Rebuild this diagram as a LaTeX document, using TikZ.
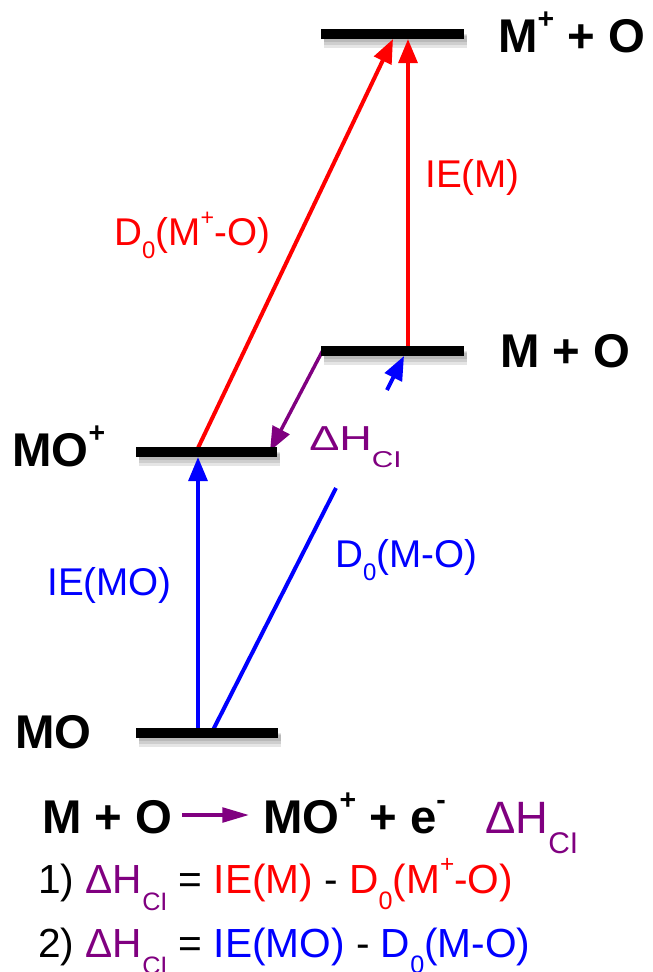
\documentclass[tikz,border=0pt]{standalone}
\usepackage{fontspec}
\setmainfont{Liberation Sans}
\usetikzlibrary{arrows.meta,calc}
\definecolor{cred}{RGB}{255,0,0}
\definecolor{cblue}{RGB}{0,0,255}
\definecolor{cpurple}{RGB}{128,0,128}
\newcommand{\lowsub}[3][0.62]{\raisebox{-#2em}{\scalebox{#1}{#3}}}
\newcommand{\hisup}[1]{\raisebox{0.5em}{\scalebox{0.6}{#1}}}
\tikzset{
  lvl/.style={line width=7pt, black},
  shad/.style={line width=#1, black, opacity=0.10},
  big/.style={font=\fontsize{35.5}{40}\selectfont\bfseries, inner sep=0pt, anchor=base west},
  lab/.style={font=\fontsize{29}{34}\selectfont, inner sep=0pt, anchor=base west},
  eqn/.style={font=\fontsize{30.5}{36}\selectfont, inner sep=0pt, anchor=base west},
  arr/.style={line width=3pt, -{Triangle[length=18pt,width=14pt]}},
}
\begin{document}
\begin{tikzpicture}[x=0.75pt,y=-0.75pt]
\useasboundingbox (0,0) rectangle (653,972);
% level bars coordinates
\coordinate (top-l) at (321,34);  \coordinate (top-r) at (464,34);
\coordinate (mo-l)  at (321,351); \coordinate (mo-r)  at (464,351);
\coordinate (ion-l) at (136,452); \coordinate (ion-r) at (277,452);
\coordinate (bot-l) at (136,733); \coordinate (bot-r) at (278,733);
% shadows
\foreach \a/\b in {top-l/top-r, mo-l/mo-r, ion-l/ion-r, bot-l/bot-r}{
  \draw[shad=11pt] ($(\a)+(3,7)$) -- ($(\b)+(3,7)$);
  \draw[shad=8pt] ($(\a)+(3,6)$) -- ($(\b)+(3,6)$);
  \draw[shad=5pt] ($(\a)+(3,5)$) -- ($(\b)+(3,5)$);
}
% arrow end points
\coordinate (r1s) at (198,448); \coordinate (r1e) at (393,39);
\coordinate (r2s) at (408,348); \coordinate (r2e) at (408,39);
\coordinate (ps)  at (323,350); \coordinate (pe)  at (270,451);
\coordinate (b1s) at (198,730); \coordinate (b1e) at (198,457);
\coordinate (b2s) at (213,730); \coordinate (b2m) at (336,488);
\coordinate (b3s) at (387,390); \coordinate (b3e) at (404,356);
% arrows
\draw[arr, cred] (r1s) -- (r1e);
\draw[arr, cred] (r2s) -- (r2e);
\draw[arr, cpurple, line width=2.6pt] (ps) -- (pe);
\draw[arr, cblue] (b1s) -- (b1e);
\draw[cblue, line width=3pt] (b2s) -- (b2m);
\draw[arr, cblue] (b3s) -- (b3e);
% bars
\draw[lvl] (top-l) -- (top-r);
\draw[lvl] (mo-l) -- (mo-r);
\draw[lvl] (ion-l) -- (ion-r);
\draw[lvl] (bot-l) -- (bot-r);
% level labels
\node[big] (tMpO) at (498,52) {M\hisup{+} + O};
\node[big] (tMO) at (500,367) {M + O};
\node[big] (tMOp) at (12,466) {MO\hisup{+}};
\node[big] (tMOb) at (15,748) {MO};
% arrow labels
\node[lab, cred] (lIEM) at (425,187) {IE(M)};
\node[lab, cred] (lD0p) at (114,245) {D\lowsub{0.34}{0}(M\hisup{+}-O)};
\node[lab, cblue] (lIEMO) at (47,595) {IE(MO)};
\node[lab, cblue] (lD0) at (335,567) {D\lowsub{0.34}{0}(M-O)};
\node[inner sep=0pt, anchor=base west, text=cpurple, font=\fontsize{26}{30}\selectfont] (ldh) at (309,450)
  {\scalebox{1.3}[1]{ΔH\lowsub[0.66]{0.5}{CI}}};
% bottom equations
\node[big] (e0a) at (42,833) {M + O};
\coordinate (ea1) at (182,815); \coordinate (ea2) at (249,815);
\draw[cpurple, line width=2.6pt, -{Triangle[length=20pt,width=11pt]}] (ea1) -- (ea2);
\node[big] (e0b) at (263,833) {MO\hisup{+} + e\hisup{-}};
\node[inner sep=0pt, anchor=base west, text=cpurple, font=\fontsize{34}{40}\selectfont] (e0c) at (485,833)
  {ΔH\lowsub[0.66]{0.45}{CI}};
\node[eqn] (e1) at (38,893) {1) \textcolor{cpurple}{ΔH\lowsub{0.43}{CI}} = \textcolor{cred}{IE(M)} - \textcolor{cred}{D\lowsub{0.4}{0}(M\hisup{+}-O)}};
\node[eqn] (e2) at (38,957) {2) \textcolor{cpurple}{ΔH\lowsub{0.43}{CI}} = \textcolor{cblue}{IE(MO)} - \textcolor{cblue}{D\lowsub{0.4}{0}(M-O)}};
\end{tikzpicture}
\end{document}
